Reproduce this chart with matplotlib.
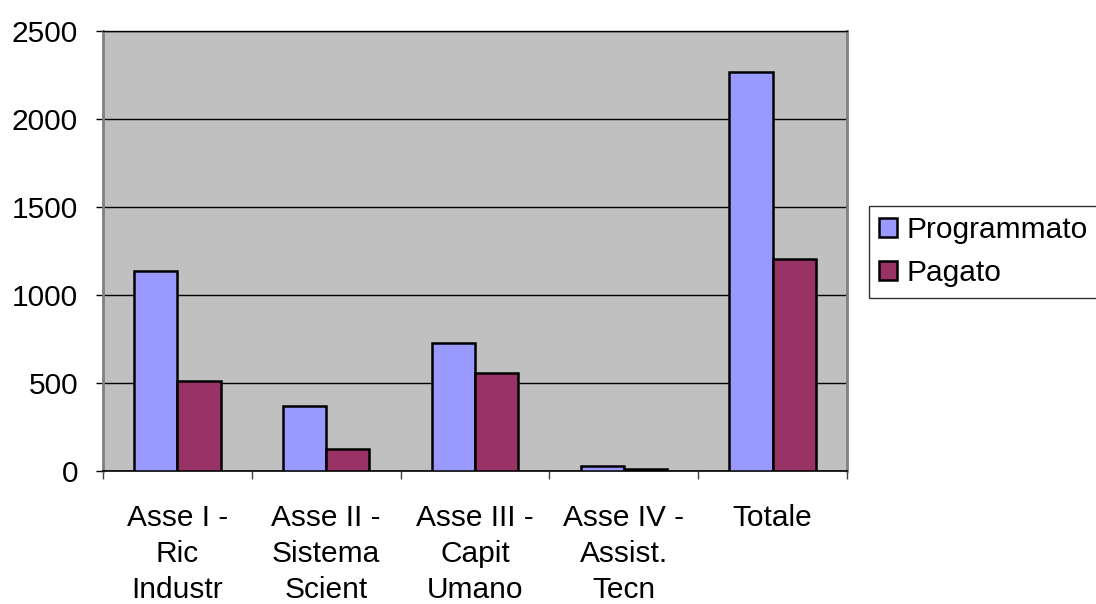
import numpy as np
import matplotlib.pyplot as plt

plt.rcParams['font.family'] = ['Liberation Sans', 'DejaVu Sans']

categories = ['Asse I -\nRic\nIndustr', 'Asse II -\nSistema\nScient', 'Asse III -\nCapit\nUmano',
              'Asse IV -\nAssist.\nTecn', 'Totale']
programmato = [1138, 369, 727, 30, 2265]
pagato = [513, 125, 557, 13, 1203]
y_ticks = [0, 500, 1000, 1500, 2000, 2500]

fs = 21.5
fig = plt.figure(figsize=(10.96, 6.04), dpi=100)
ax = fig.add_axes([103 / 1096, 1 - 471 / 604, 744 / 1096, 440 / 604])
ax.set_facecolor('#C0C0C0')

x = np.arange(len(categories))
w = 0.29
ax.bar(x - w / 2, programmato, w, color='#9999FF', edgecolor='black', linewidth=1.8,
       label='Programmato', zorder=3)
ax.bar(x + w / 2, pagato, w, color='#993366', edgecolor='black', linewidth=1.8,
       label='Pagato', zorder=3)

ax.set_xlim(-0.5, len(categories) - 0.5)
ax.set_ylim(0, 2500)
ax.set_yticks(y_ticks)
ax.set_yticklabels([str(v) for v in y_ticks], fontsize=fs)
ax.yaxis.grid(True, color='black', linewidth=1, zorder=1)
ax.set_axisbelow(True)

# boundaries as tick marks, category names as minor ticks
ax.set_xticks(np.arange(len(categories) + 1) - 0.5)
ax.set_xticklabels([])
ax.set_xticks(x, minor=True)
ax.set_xticklabels(categories, minor=True, fontsize=fs, linespacing=1.35)
ax.tick_params(axis='x', which='major', length=6, width=1, color='#404040', direction='out')
ax.tick_params(axis='x', which='minor', length=0, pad=24)
ax.tick_params(axis='y', length=5, width=1, color='black', pad=13)

for side in ['left', 'right']:
    ax.spines[side].set_color('#808080')
    ax.spines[side].set_linewidth(2)
ax.spines['top'].set_color('black')
ax.spines['bottom'].set_color('black')
ax.spines['top'].set_linewidth(1)
ax.spines['bottom'].set_linewidth(1.2)

leg = fig.legend(loc='upper left', bbox_to_anchor=(869 / 1096, 1 - 206 / 604),
                 fontsize=fs, frameon=True, fancybox=False, shadow=False,
                 handlelength=0.6, handleheight=0.6, handletextpad=0.3,
                 borderpad=0.35, labelspacing=0.5, borderaxespad=0)
leg.get_frame().set_edgecolor('black')
leg.get_frame().set_linewidth(1)
for h in leg.legend_handles:
    h.set_linewidth(1.8)

plt.savefig('out.png', dpi=100)
